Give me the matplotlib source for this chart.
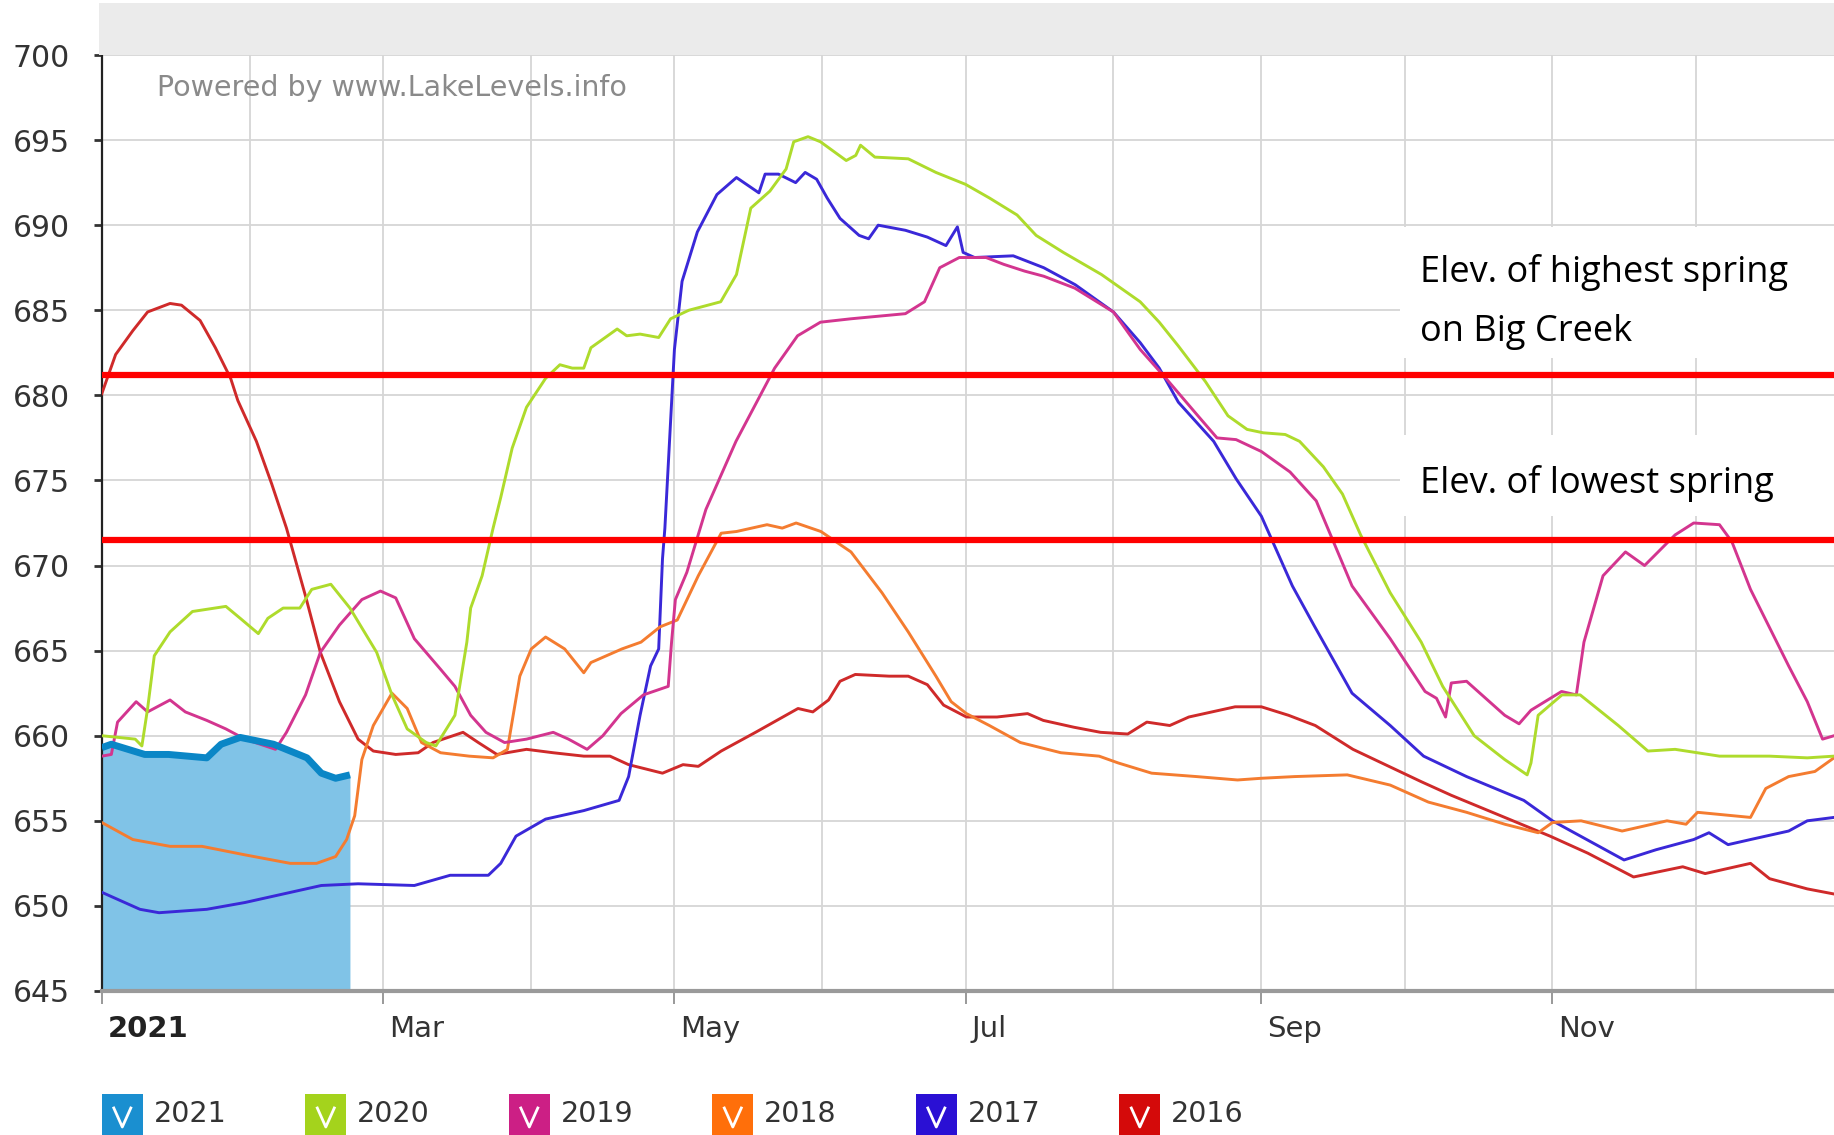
import matplotlib
matplotlib.use("Agg")
from matplotlib import pyplot as plt
from matplotlib.patches import Rectangle
from matplotlib.lines import Line2D
from matplotlib.transforms import ScaledTranslation

# day of year (0 = Jan 1) and lake level (ft)
lvl_2021 = [(0, 659.3), (2, 659.5), (9, 658.9), (14, 658.9), (22, 658.7), (25, 659.5),
            (29, 659.9), (36, 659.5), (43, 658.7), (46, 657.8), (49, 657.5), (52, 657.7)]

lvl_2020 = [(0, 660.0), (7, 659.8), (8.4, 659.4), (9.6, 661.6), (11, 664.7), (14.3, 666.1),
            (19, 667.3), (26, 667.6), (29, 666.9), (32.8, 666.0), (34.8, 666.9), (38, 667.5),
            (41.5, 667.5), (44, 668.6), (48, 668.9), (52, 667.5), (57.6, 664.9), (60.8, 662.4),
            (64, 660.4), (68, 659.6), (70, 659.4), (74, 661.2), (76.5, 665.5), (77.3, 667.5),
            (79.7, 669.4), (82, 672.2), (83.6, 674.0), (86, 676.9), (89, 679.3), (93, 681.0),
            (96, 681.8), (98.6, 681.6), (101, 681.6), (102.5, 682.8), (108, 683.9), (110, 683.5),
            (112.8, 683.6), (116.7, 683.4), (119.2, 684.5), (123, 685.0), (129.7, 685.5),
            (133, 687.1), (136, 691.0), (140, 692.0), (143.4, 693.3), (145, 694.9), (148, 695.2),
            (150.6, 694.9), (156, 693.8), (158, 694.1), (159, 694.7), (162, 694.0), (169, 693.9),
            (174.8, 693.1), (181, 692.4), (186, 691.6), (191.8, 690.6), (195.8, 689.4),
            (201.5, 688.4), (209.5, 687.1), (217.6, 685.5), (221.6, 684.3), (225.6, 682.9),
            (231.3, 680.8), (236, 678.8), (240, 678.0), (243.4, 677.8), (248, 677.7), (251, 677.3),
            (256, 675.8), (260, 674.2), (263.8, 671.8), (270, 668.4), (276.5, 665.5), (281, 662.9),
            (287.6, 660.0), (294, 658.6), (298.7, 657.7), (299.5, 658.4), (301, 661.2), (306, 662.4),
            (309.8, 662.4), (317.8, 660.6), (324, 659.1), (329.7, 659.2), (339, 658.8),
            (349.5, 658.8), (357.4, 658.7), (363, 658.8)]

lvl_2019 = [(0, 658.8), (2, 658.9), (3.3, 660.8), (7.2, 662.0), (9.6, 661.4), (14.3, 662.1),
            (17.5, 661.4), (22, 660.9), (26, 660.4), (30, 659.8), (36.4, 659.2), (38.7, 660.2),
            (42.7, 662.4), (45.8, 664.9), (49.8, 666.5), (54.5, 668.0), (58.4, 668.5), (61.6, 668.1),
            (65.5, 665.7), (71, 663.9), (74, 662.9), (77.3, 661.2), (80.5, 660.2), (84.4, 659.6),
            (89, 659.8), (94.6, 660.2), (97.8, 659.8), (101.7, 659.2), (105, 660.0), (108.8, 661.3),
            (113.5, 662.4), (118.7, 662.9), (119.4, 665.5), (120.2, 668.0), (122.6, 669.6),
            (126.6, 673.3), (132.9, 677.3), (141, 681.6), (145.8, 683.5), (150.6, 684.3),
            (157, 684.5), (168.4, 684.8), (172.4, 685.5), (175.6, 687.5), (179.7, 688.1),
            (185.3, 688.1), (189, 687.7), (193.4, 687.3), (197.4, 687.0), (203.9, 686.3),
            (212, 684.9), (217.6, 682.7), (223, 681.0), (229.7, 678.8), (233.7, 677.5),
            (237.7, 677.4), (243, 676.7), (249, 675.5), (254.5, 673.8), (262, 668.8), (270, 665.7),
            (277.3, 662.6), (279.7, 662.2), (281.6, 661.1), (282.8, 663.1), (286, 663.2),
            (290, 662.2), (294, 661.2), (297, 660.7), (299.5, 661.5), (305.9, 662.6), (309, 662.4),
            (310.6, 665.5), (314.6, 669.4), (319.3, 670.8), (323.3, 670.0), (329.7, 671.8),
            (333.6, 672.5), (339, 672.4), (341.6, 671.4), (345.5, 668.6), (353.5, 664.1),
            (357.4, 662.0), (360.6, 659.8), (363, 660.0)]

lvl_2018 = [(0, 654.9), (6.5, 653.9), (14.3, 653.5), (21, 653.5), (30, 653.0), (39.5, 652.5),
            (45, 652.5), (49, 652.9), (51.3, 653.9), (53, 655.3), (54.5, 658.6), (56.9, 660.6),
            (60.8, 662.5), (64, 661.6), (67, 659.6), (71, 659.0), (77, 658.8), (82, 658.7),
            (85, 659.2), (87.6, 663.5), (90, 665.1), (93, 665.8), (97, 665.1), (101, 663.7),
            (102.5, 664.3), (109, 665.1), (113, 665.5), (117, 666.4), (120.6, 666.8), (125, 669.4),
            (129.8, 671.9), (133, 672.0), (139.4, 672.4), (142.6, 672.2), (145.5, 672.5),
            (150.7, 672.0), (157, 670.8), (163.5, 668.4), (169, 666.1), (174.8, 663.5), (178, 662.0),
            (181.2, 661.3), (186, 660.6), (192.5, 659.6), (201, 659.0), (209, 658.8), (213, 658.4),
            (220, 657.8), (229.4, 657.6), (238, 657.4), (243, 657.5), (250, 657.6), (261, 657.7),
            (270, 657.1), (278, 656.1), (286, 655.5), (294, 654.8), (301, 654.3), (304, 654.9),
            (310, 655.0), (318.6, 654.4), (328, 655.0), (332, 654.8), (334.4, 655.5),
            (345.5, 655.2), (348.7, 656.9), (353.5, 657.6), (359, 657.9), (363, 658.7)]

lvl_2017 = [(0, 650.8), (8, 649.8), (12, 649.6), (22, 649.8), (30, 650.2), (38, 650.7),
            (46, 651.2), (53.7, 651.3), (65.5, 651.2), (73, 651.8), (81, 651.8), (83.6, 652.5),
            (86.8, 654.1), (93, 655.1), (101, 655.6), (108.4, 656.2), (110.4, 657.6), (112.8, 661.2),
            (115, 664.1), (116.7, 665.1), (117.5, 670.4), (118, 672.2), (120, 682.7), (121.6, 686.7),
            (124.8, 689.6), (128.9, 691.8), (133, 692.8), (137.7, 691.9), (139, 693.0),
            (141.8, 693.0), (145.4, 692.5), (147.4, 693.1), (149.8, 692.7), (152, 691.6),
            (154.7, 690.4), (158.7, 689.4), (160.7, 689.2), (162.7, 690.0), (168.4, 689.7),
            (173, 689.3), (176.9, 688.8), (179.3, 689.9), (180.5, 688.4), (182.9, 688.1),
            (191, 688.2), (197.4, 687.5), (204, 686.5), (212, 684.9), (217.6, 683.1),
            (221.6, 681.6), (225.6, 679.6), (233, 677.3), (237.7, 675.1), (243, 672.9),
            (249.5, 668.8), (254, 666.5), (262, 662.5), (270, 660.6), (277, 658.8), (286, 657.6),
            (298, 656.2), (304, 655.0), (319, 652.7), (325.7, 653.3), (333.6, 653.9),
            (336.8, 654.3), (340.8, 653.6), (345.5, 653.9), (353.5, 654.4), (357.4, 655.0),
            (363, 655.2)]

lvl_2016 = [(0, 680.1), (2.9, 682.4), (6.5, 683.8), (9.6, 684.9), (14.3, 685.4), (16.7, 685.3),
            (20.6, 684.4), (23.8, 682.8), (27, 681.0), (28.5, 679.7), (32.4, 677.3), (35.6, 674.8),
            (38.7, 672.2), (39.5, 671.4), (42.7, 668.2), (45.8, 664.9), (49.8, 662.0), (53.7, 659.8),
            (56.9, 659.1), (61.6, 658.9), (66.3, 659.0), (69.4, 659.6), (75.7, 660.2), (78.9, 659.6),
            (82.8, 658.9), (89, 659.2), (94.6, 659.0), (101, 658.8), (106.5, 658.8), (110.4, 658.3),
            (117.5, 657.8), (121.8, 658.3), (125, 658.2), (129.8, 659.1), (137, 660.2),
            (145.9, 661.6), (149, 661.4), (152.3, 662.1), (154.7, 663.2), (157.9, 663.6),
            (165, 663.5), (169, 663.5), (173, 663.0), (176.4, 661.8), (181.2, 661.1),
            (187.6, 661.1), (194, 661.3), (197.3, 660.9), (203.7, 660.5), (209.3, 660.2),
            (215, 660.1), (219, 660.8), (223.8, 660.6), (227.8, 661.1), (237.5, 661.7),
            (243, 661.7), (248.7, 661.2), (254.3, 660.6), (262.2, 659.2), (276.5, 657.3),
            (282.8, 656.5), (294, 655.2), (303.5, 654.1), (311.4, 653.1), (321, 651.7),
            (331.3, 652.3), (336, 651.9), (345.5, 652.5), (349.5, 651.6), (357.4, 651.0),
            (363, 650.7)]

years = ["2021", "2020", "2019", "2018", "2017", "2016"]
legend_colors = ["#1a8fd0", "#a4d31c", "#cc1f85", "#ff6f0a", "#2a10d4", "#d40a0a"]

month_starts = [0, 31, 59, 90, 120, 151, 181, 212, 243, 273, 304, 334]
tick_days = [0, 59, 120, 181, 243, 304]
tick_labels = ["2021", "Mar", "May", "Jul", "Sep", "Nov"]
y_ticks = [645, 650, 655, 660, 665, 670, 675, 680, 685, 690, 695, 700]

highest_spring = 681.2
lowest_spring = 671.5

W, H = 1834, 1135
fig = plt.figure(figsize=(W / 100, H / 100), dpi=100)
ax = fig.add_axes([101.8 / W, 1 - 991 / H, 1 - 101.8 / W, (991 - 55) / H])

# grey band on top of the plot
fig.patches.append(Rectangle((99 / W, 1 - 55 / H), 1, 52 / H, transform=fig.transFigure,
                             facecolor="#ebebeb", edgecolor="none", zorder=0))


def split(pairs):
    return [p[0] for p in pairs], [p[1] for p in pairs]


# older years first, 2021 as filled area on top
series = [(lvl_2016, "#cf2a2a"), (lvl_2017, "#3a28d8"), (lvl_2018, "#f47c30"),
          (lvl_2019, "#d3358f"), (lvl_2020, "#aedb2c")]
for pairs, col in series:
    x, y = split(pairs)
    ax.plot(x, y, color=col, lw=2.1, zorder=3, solid_joinstyle="round")

x21, y21 = split(lvl_2021)
ax.fill_between(x21, 645, y21, color="#80c3e7", lw=0, zorder=2)
ax.plot(x21, y21, color="#0a86c6", lw=5, zorder=4, solid_capstyle="butt")

# spring elevation lines
ax.axhline(highest_spring, color="#ff0000", lw=4.5, zorder=6)
ax.axhline(lowest_spring, color="#ff0000", lw=4.5, zorder=6)

# white label boxes over the grid
ax.add_patch(Rectangle((272, 682.2), 100, 7.7, facecolor="white", edgecolor="none", zorder=1.5))
ax.add_patch(Rectangle((272, 672.9), 100, 4.8, facecolor="white", edgecolor="none", zorder=1.5))
tfont = dict(family="Open Sans", size=26, color="black", va="center", ha="left", zorder=7)
ax.text(276.2, 687.2, "Elev. of highest spring", **tfont)
ax.text(276.2, 683.7, "on Big Creek", **tfont)
ax.text(276.2, 674.8, "Elev. of lowest spring", **tfont)

ax.text(0.032, 0.965, "Powered by www.LakeLevels.info", transform=ax.transAxes,
        fontsize=20.5, color="#8a8a8a", ha="left", va="center")

ax.set_xlim(0, 363)
ax.set_ylim(645, 700)

ax.set_xticks(month_starts, minor=True)
ax.set_xticks(tick_days)
ax.set_xticklabels([])
# month labels sit just right of their tick
lab_tr = ax.get_xaxis_transform() + ScaledTranslation(4 / 72, -17 / 72, fig.dpi_scale_trans)
for d, lab in zip(tick_days, tick_labels):
    bold = lab == "2021"
    ax.text(d, 0, lab, transform=lab_tr, ha="left", va="top", fontsize=21,
            fontweight="bold" if bold else "normal", color="#222222" if bold else "#333333",
            clip_on=False)

ax.set_yticks(y_ticks)
ax.set_yticklabels([str(v) for v in y_ticks], fontsize=21.5, color="#333333")

ax.tick_params(axis="x", which="major", length=9, width=1.2, color="#888888", pad=8)
ax.tick_params(axis="x", which="minor", length=0)
ax.tick_params(axis="y", length=6, width=2, color="#333333", pad=17)

ax.set_axisbelow(True)
ax.grid(True, which="both", axis="x", color="#d6d6d6", lw=1.3)
ax.grid(True, which="major", axis="y", color="#d6d6d6", lw=1.3)

for s in ["top", "right"]:
    ax.spines[s].set_visible(False)
ax.spines["left"].set_color("#222222")
ax.spines["left"].set_linewidth(1.6)
ax.spines["bottom"].set_color("#9a9a9a")
ax.spines["bottom"].set_linewidth(3)

# legend row at the bottom
for i, (yr, col) in enumerate(zip(years, legend_colors)):
    x0 = 101.8 + i * 203.5
    fig.patches.append(Rectangle((x0 / W, 0.5 / H), 41 / W, 41 / H, transform=fig.transFigure,
                                 facecolor=col, edgecolor="none"))
    fig.lines.append(Line2D([(x0 + 12) / W, (x0 + 20.5) / W, (x0 + 29) / W],
                            [27 / H, 8 / H, 27 / H], transform=fig.transFigure,
                            color="white", lw=2))
    fig.text((x0 + 52) / W, 21.5 / H, yr, fontsize=20.5, color="#333333", ha="left", va="center")

fig.savefig("out.png", dpi=100, facecolor="white")
